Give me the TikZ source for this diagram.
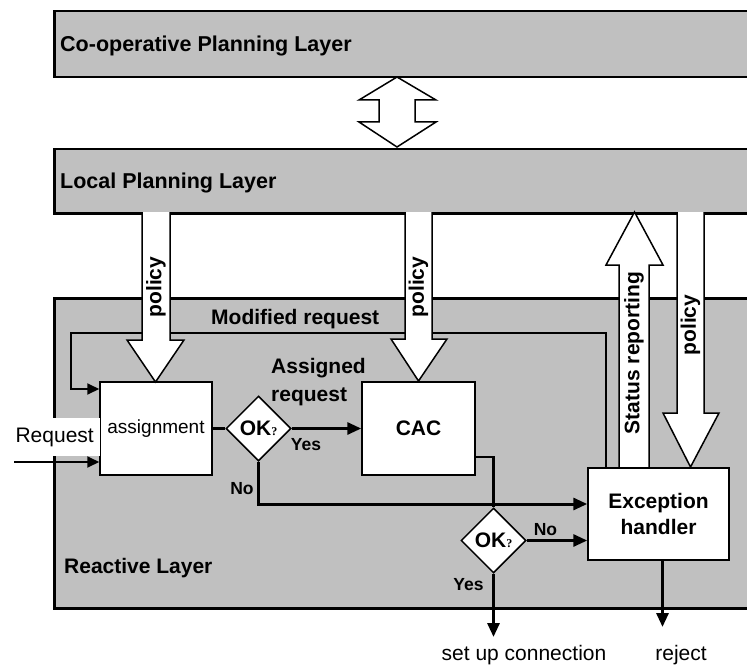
\documentclass[tikz,border=0pt]{standalone}
\usepackage{fontspec}
\setmainfont{Liberation Sans}
\newfontfamily\qfont{Liberation Serif}
\usetikzlibrary{arrows.meta,shapes.geometric,calc}
\definecolor{layergray}{RGB}{192,192,192}
\newcommand\fsz[1]{\fontsize{#1}{#1}\selectfont}
\begin{document}
\begin{tikzpicture}[x=1pt,y=-1pt,
  layer/.style={draw=black, line width=2.5pt, fill=layergray, inner sep=0pt},
  box/.style={draw=black, line width=1.5pt, fill=white, inner sep=0pt},
  dia/.style={shape=diamond, draw=black, line width=1.5pt, fill=white, minimum width=65pt, minimum height=65pt, inner sep=0pt},
  blk/.style={draw=black, line width=1.5pt, fill=white, line join=miter},
  conn/.style={line width=3pt, -{Triangle[length=14pt,width=12pt]}},
  thinconn/.style={line width=2pt, -{Triangle[length=12pt,width=11pt]}},
  lbl/.style={font=\fsz{21}\bfseries, inner sep=0pt},
  yn/.style={font=\fsz{17.5}\bfseries, inner sep=0pt},
  title/.style={font=\fsz{21.5}\bfseries, inner sep=0pt, anchor=base west},
]
\useasboundingbox (0,0) rectangle (747,666);
\clip (0,0) rectangle (747,666);

% layers
\node[layer, minimum width=710pt, minimum height=66pt, anchor=north west] (coop) at (53,10) {};
\node[layer, minimum width=710pt, minimum height=64pt, anchor=north west] (lp) at (53,148) {};
\node[layer, minimum width=710pt, minimum height=310pt, anchor=north west] (react) at (53,297) {};
\node[title] (coopt) at (60,52) {Co-operative Planning Layer};
\node[title] (lpt) at (60,189) {Local Planning Layer};

% double arrow between planning layers
\draw[blk] (397,77) -- (436,100) -- (415,100) -- (415,122) -- (436,122) -- (397,147)
  -- (359,122) -- (379,122) -- (379,100) -- (359,100) -- cycle;

% boxes
\node[box, minimum width=112pt, minimum height=93pt, font=\fsz{19}] (asg) at (156,428.5) {assignment};
\node[box, minimum width=113pt, minimum height=93pt, font=\fsz{21}\bfseries] (cac) at (418.5,428.5) {CAC};
\node[box, minimum width=141pt, minimum height=92pt, align=center, font=\fontsize{21}{26}\selectfont\bfseries] (exc) at (658.5,514) {Exception\\handler};

% modified request loop
\coordinate (modcorner) at (71,333);
\draw[thinconn] ([xshift=19pt]exc.north west) |- (modcorner) |- ([yshift=39.5pt]asg.west);

% block arrows
\draw[blk] (142,212) -- (142,340) -- (127,340) -- (155.5,382) -- (184,340) -- (170,340) -- (170,212);
\draw[blk] (405,212) -- (405,339) -- (391,339) -- (418.5,381) -- (447,339) -- (432,339) -- (432,212);
\draw[blk] (619,467) -- (619,265) -- (606,265) -- (634.5,212) -- (663,265) -- (649,265) -- (649,467);
\draw[blk] (677,212) -- (677,413) -- (663,413) -- (690.5,467) -- (719,413) -- (704,413) -- (704,212);
\node[lbl, rotate=90] (pol1) at (156,287) {policy};
\node[lbl, rotate=90] (pol2) at (418.5,287) {policy};
\node[lbl, rotate=90] (pol3) at (690.5,325) {policy};
\node[lbl, rotate=90] (stat) at (634,353) {Status reporting};

% redraw box borders over arrow tips
\node[box, minimum width=112pt, minimum height=93pt, fill=none] at (asg) {};
\node[box, minimum width=113pt, minimum height=93pt, fill=none] at (cac) {};
\node[box, minimum width=141pt, minimum height=92pt, fill=none] at (exc) {};

% diamonds
\node[dia] (ok1) at (258.5,428.5) {\fsz{21}\bfseries OK{\qfont\fsz{12}\bfseries ?}};
\node[dia] (ok2) at (493.5,540.5) {\fsz{21}\bfseries OK{\qfont\fsz{12}\bfseries ?}};

% connectors
\draw[line width=2.5pt] (asg.east) -- (ok1.west);
\draw[conn] (ok1.east) -- (cac.west);
\draw[conn] (ok1.south) |- ([yshift=10pt]exc.west);
\draw[line width=2.5pt] ([yshift=-28.5pt]cac.east) -| (ok2.north);
\draw[conn] (ok2.east) -- (ok2.east -| exc.west);
\coordinate (setupend) at (493.5,637);
\draw[conn] (ok2.south) -- (setupend);
\coordinate (rejend) at (662.5,627);
\draw[conn] ([xshift=4pt]exc.south) -- (rejend);

% request input
\node[font=\fsz{21}, fill=white, anchor=east, inner xsep=6pt, inner ysep=0pt, minimum height=38pt] (req) at (100,437) {Request};
\coordinate (reqstart) at (14,462);
\draw[thinconn] (reqstart) -- (reqstart -| asg.west);

% labels
\node[lbl, anchor=west] (modreq) at (211,319) {Modified request};
\node[lbl, align=left, font=\fontsize{21}{28}\selectfont\bfseries] (assreq) at (318.5,382.5) {Assigned\\request};
\node[yn] (yes1) at (306,445) {Yes};
\node[yn] (no1) at (242,489) {No};
\node[yn] (no2) at (545.5,530) {No};
\node[yn] (yes2) at (468.5,585) {Yes};
\node[lbl, anchor=west] (reactt) at (64,568) {Reactive Layer};
\node[font=\fsz{21}, inner sep=0pt] (setup) at (524,655) {set up connection};
\node[font=\fsz{21}, inner sep=0pt] (reject) at (681,655) {reject};
\end{tikzpicture}
\end{document}
